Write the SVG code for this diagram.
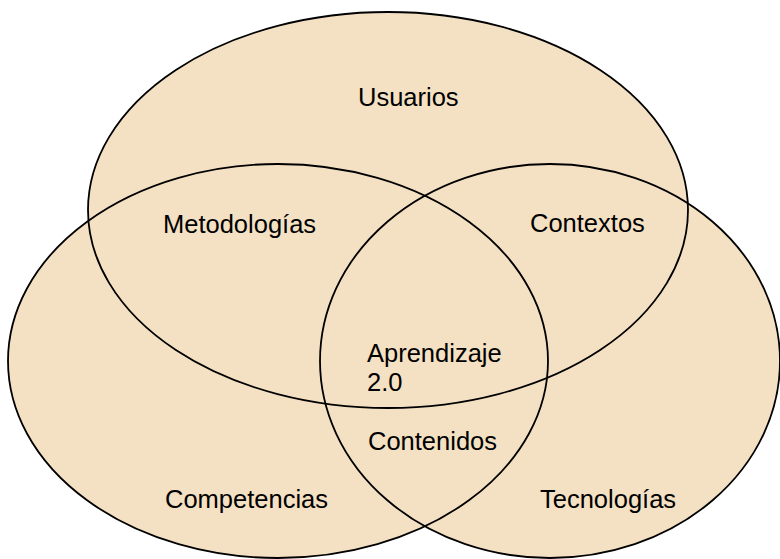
<svg xmlns="http://www.w3.org/2000/svg" width="780" height="559" viewBox="0 0 780 559">
  <style>
    .fill { fill: #F4E1C3; stroke: none; }
    .outline { fill: none; stroke: #000000; stroke-width: 1.8; }
    .label { font-family: "Liberation Sans", Arial, sans-serif; font-size: 25.5px; fill: #000000; }
  </style>
  <rect x="0" y="0" width="780" height="559" fill="#FFFFFF"/>
  <g id="fills">
    <ellipse class="fill" cx="388" cy="210" rx="300" ry="198"/>
    <ellipse class="fill" cx="278" cy="361" rx="270" ry="197"/>
    <ellipse class="fill" cx="550" cy="361" rx="230" ry="197"/>
  </g>
  <g id="usuarios">
    <ellipse class="outline" cx="388" cy="210" rx="300" ry="198"/>
    <text class="label" x="358" y="106">Usuarios</text>
  </g>
  <g id="competencias">
    <ellipse class="outline" cx="278" cy="361" rx="270" ry="197"/>
    <text class="label" x="165" y="508">Competencias</text>
  </g>
  <g id="tecnologias">
    <ellipse class="outline" cx="550" cy="361" rx="230" ry="197"/>
    <text class="label" x="540" y="508">Tecnologías</text>
  </g>
  <g id="metodologias">
    <text class="label" x="163" y="233">Metodologías</text>
  </g>
  <g id="contextos">
    <text class="label" x="530" y="232">Contextos</text>
  </g>
  <g id="contenidos">
    <text class="label" x="368" y="450">Contenidos</text>
  </g>
  <g id="aprendizaje">
    <text class="label" x="367" y="362">Aprendizaje</text>
    <text class="label" x="367" y="391">2.0</text>
  </g>
  <g id="connectors"/>
</svg>
